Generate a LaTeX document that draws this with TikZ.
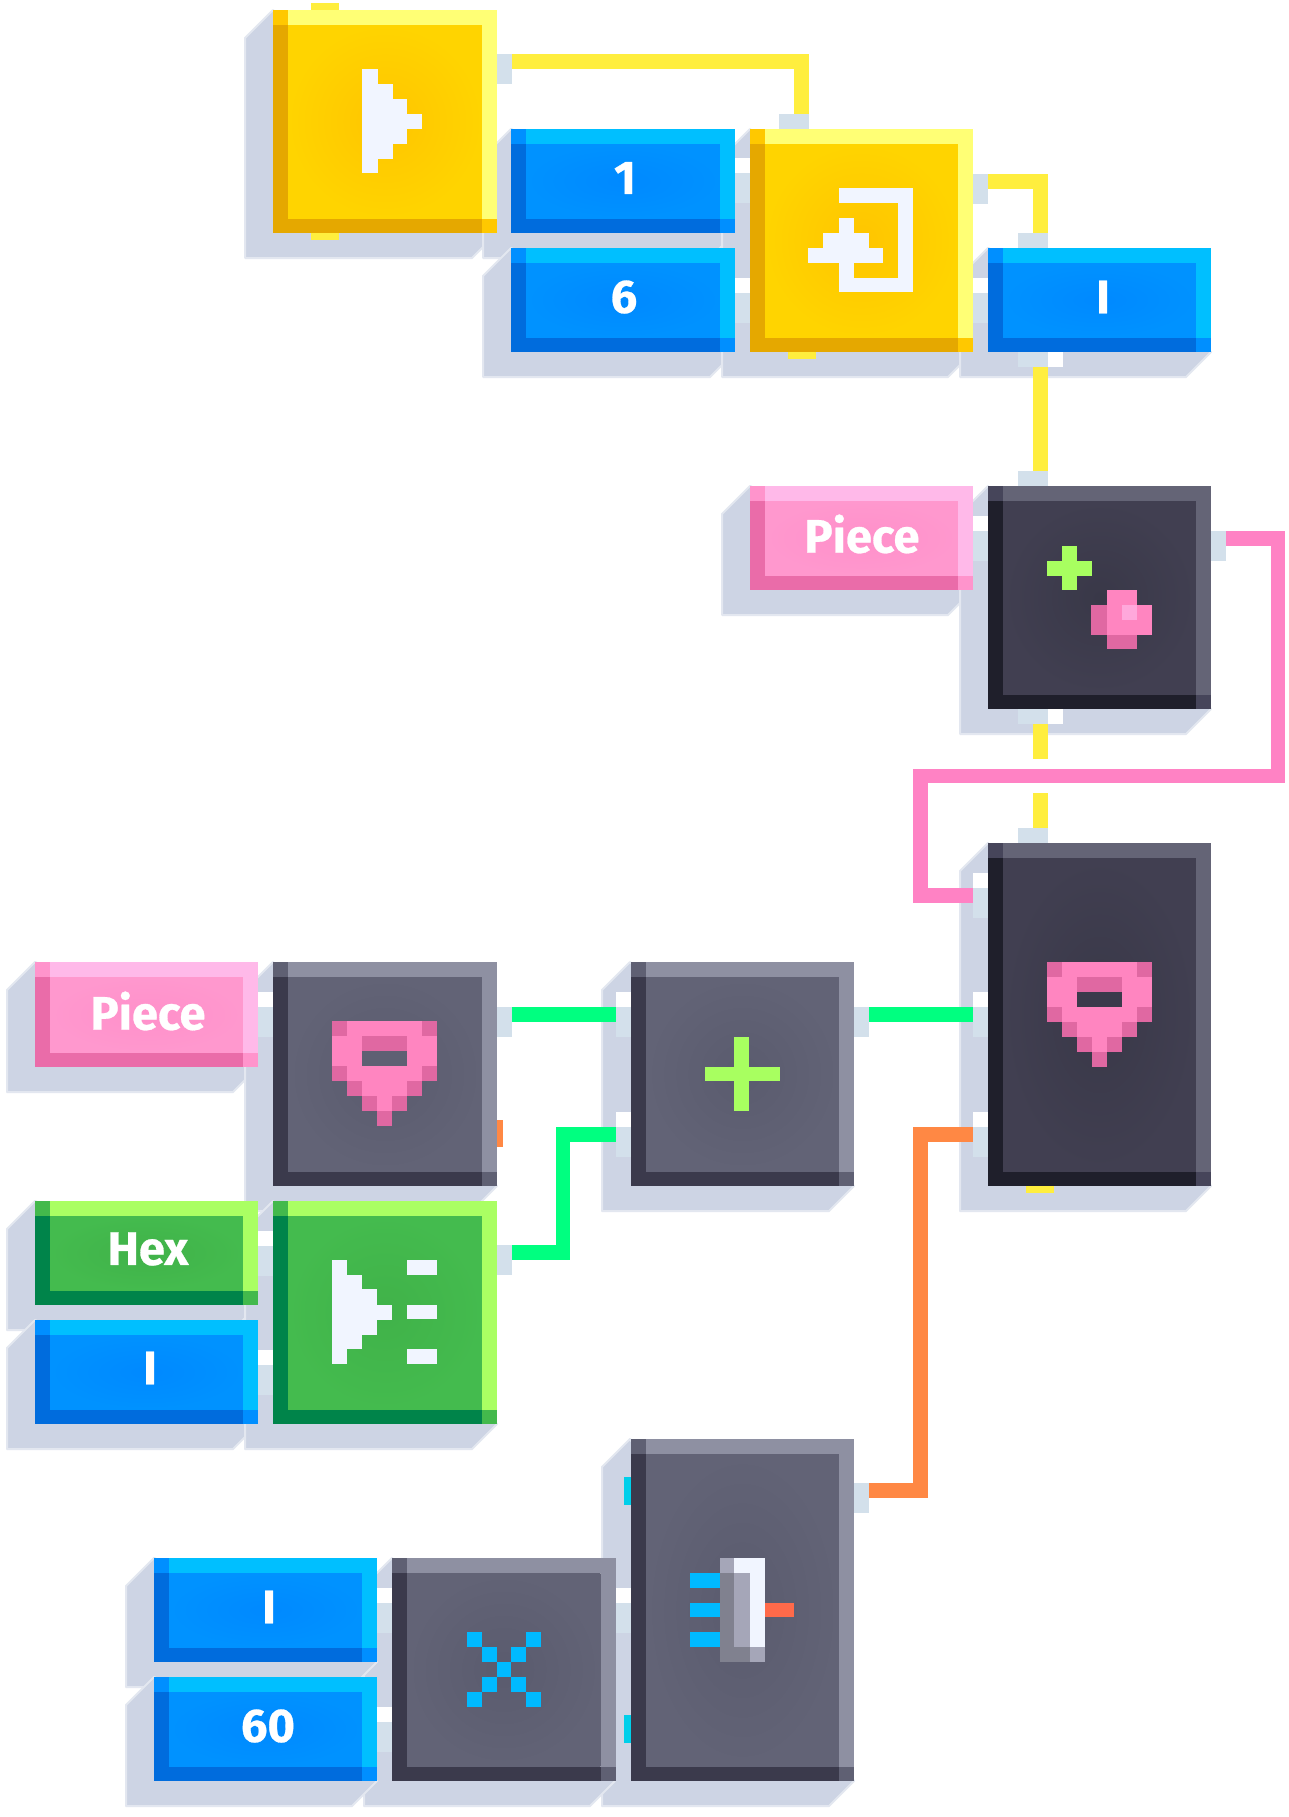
\documentclass[tikz,border=0pt]{standalone}
\usepackage{fontspec}
\setmainfont{Fira Sans}[BoldFeatures={FakeBold=0.6}]
\definecolor{shadowc}{HTML}{CDD4E4}
\definecolor{shadowe}{HTML}{E3E7F0}
\definecolor{portc}{HTML}{D3E0EB}
\definecolor{iconw}{HTML}{F1F5FF}
\definecolor{wirey}{HTML}{FFEE3E}
\definecolor{wireg}{HTML}{00FF80}
\definecolor{wirep}{HTML}{FF82C4}
\definecolor{wireo}{HTML}{FF8844}
\definecolor{stubc}{HTML}{00CFEA}
\definecolor{pinm}{HTML}{FF85C0}
\definecolor{pind}{HTML}{E068A2}
\definecolor{pinl}{HTML}{FFA8DB}
\definecolor{limec}{HTML}{A8FF60}
\definecolor{skyc}{HTML}{00BAFF}
\definecolor{redc}{HTML}{FF6A4A}
\definecolor{muxa}{HTML}{80818F}
\definecolor{muxb}{HTML}{A5A6B8}
\definecolor{bgdark}{HTML}{3B3A4B}
\definecolor{bggray}{HTML}{5F6073}
% colour sets: light, dark, corner, inner, outer
\definecolor{yelL}{HTML}{FFFF75}\definecolor{yelD}{HTML}{E5A800}\definecolor{yelC}{HTML}{FFC800}\definecolor{yelI}{HTML}{FFC500}\definecolor{yelO}{HTML}{FFD400}
\definecolor{bluL}{HTML}{00BFFF}\definecolor{bluD}{HTML}{006CDD}\definecolor{bluC}{HTML}{008FFF}\definecolor{bluI}{HTML}{0089FF}\definecolor{bluO}{HTML}{0092FF}
\definecolor{pnkL}{HTML}{FFB9E9}\definecolor{pnkD}{HTML}{EA6CA9}\definecolor{pnkC}{HTML}{FF94CC}\definecolor{pnkI}{HTML}{FF90CA}\definecolor{pnkO}{HTML}{FF98CE}
\definecolor{drkL}{HTML}{646476}\definecolor{drkD}{HTML}{1F1F2B}\definecolor{drkC}{HTML}{46455A}\definecolor{drkI}{HTML}{393848}\definecolor{drkO}{HTML}{413F51}
\definecolor{gryL}{HTML}{8E90A2}\definecolor{gryD}{HTML}{3B3A4C}\definecolor{gryC}{HTML}{5F6073}\definecolor{gryI}{HTML}{5A5B6E}\definecolor{gryO}{HTML}{626376}
\definecolor{grnL}{HTML}{AAFF63}\definecolor{grnD}{HTML}{00844A}\definecolor{grnC}{HTML}{43B94C}\definecolor{grnI}{HTML}{40B249}\definecolor{grnO}{HTML}{44BB4E}
\tikzset{
  wire/.style={line width=14.6pt,line cap=butt,line join=miter},
  portbox/.style={fill=portc,inner sep=0pt,outer sep=0pt,draw=none},
  blockbox/.style={inner sep=0pt,outer sep=0pt,draw=none},
  textlabel/.style={text=white,inner sep=0pt,outer sep=0pt,font=\fontsize{47}{50}\selectfont\bfseries},
  shadowshape/.style={fill=shadowc,draw=shadowe,line width=2pt,line join=round},
}
\newcommand{\MkShadow}[4]{\path[shadowshape] (#1,#2) -- (#1-28,#2+28) -- (#1-28,#4+25) -- (#3-25,#4+25) -- (#3,#4) -- cycle;}
\newcommand{\MkBlock}[6]{% name x0 y0 x1 y1 set
  \shade[inner color=#6I,outer color=#6O] (#2+15,#3+15) rectangle (#4-15,#5-15);
  \fill[#6L] (#2+15,#3) rectangle (#4,#3+15);
  \fill[#6L] (#4-15,#3) rectangle (#4,#5-14.5);
  \fill[#6D] (#2,#3+15) rectangle (#2+15,#5);
  \fill[#6D] (#2,#5-14.5) rectangle (#4-15,#5);
  \fill[#6C] (#2,#3) rectangle (#2+15,#3+15);
  \fill[#6C] (#4-15,#5-14.5) rectangle (#4,#5);
  \node[blockbox,minimum width=#4pt-#2pt,minimum height=#5pt-#3pt] (#1) at ({(#2+#4)/2},{(#3+#5)/2}) {};
}
\newcommand{\MkText}[4]{\node[textlabel] (#1) at (#2,#3) {#4};}
\newcommand{\OutPort}[3]{% name, left x, top y
  \node[portbox,minimum width=15pt,minimum height=30pt] (#1) at (#2+7.5,#3+15) {};
  \coordinate (#1-w) at (#2+15,#3+7.3);}
\newcommand{\InPort}[3]{% name, left x, top of white part
  \fill[white] (#2,#3) rectangle (#2+15,#3+15);
  \node[portbox,minimum width=15pt,minimum height=30pt] (#1) at (#2+7.5,#3+30) {};
  \coordinate (#1-w) at (#2,#3+22.3);}
\newcommand{\TopPort}[3]{% name, left x, top y
  \node[portbox,minimum width=30pt,minimum height=15pt] (#1) at (#2+15,#3+7.5) {};
  \coordinate (#1-w) at (#2+22.3,#3);}
\newcommand{\BotPort}[3]{% name, left x, top y
  \node[portbox,minimum width=30pt,minimum height=15pt] (#1) at (#2+15,#3+7.5) {};
  \fill[white] (#2+30,#3) rectangle (#2+45,#3+15);
  \coordinate (#1-w) at (#2+22.3,#3+15);}
\newcommand{\Rc}[5]{\fill[#1] (#2,#3) rectangle (#4,#5);}
\newcommand{\PinIcon}[3]{% x y hole colour
  \begin{scope}[shift={(#1,#2)}]
  \Rc{pinm}{15}{0}{90}{15}\Rc{pind}{0}{0}{15}{15}\Rc{pind}{90}{0}{105}{15}
  \Rc{pinm}{0}{15}{30}{45}\Rc{pinm}{75}{15}{105}{45}
  \Rc{pind}{30}{15}{75}{30}\Rc{#3}{30}{30}{75}{45}
  \Rc{pinm}{15}{45}{90}{60}\Rc{pind}{0}{45}{15}{60}\Rc{pind}{90}{45}{105}{60}
  \Rc{pinm}{30}{60}{75}{75}\Rc{pind}{15}{60}{30}{75}\Rc{pind}{75}{60}{90}{75}
  \Rc{pinm}{45}{75}{60}{90}\Rc{pind}{30}{75}{45}{90}\Rc{pind}{60}{75}{75}{90}
  \Rc{pind}{45}{90}{60}{105}
  \end{scope}}
\begin{document}
\begin{tikzpicture}[x=1pt,y=-1pt]
\useasboundingbox (0,0) rectangle (1288,1817);
\fill[white] (0,0) rectangle (1288,1817);
% shadows
\MkShadow{273}{10}{497}{233}
\MkShadow{511}{129}{735}{233}
\MkShadow{511}{248}{735}{352}
\MkShadow{750}{129}{973}{352}
\MkShadow{988}{248}{1211}{352}
\MkShadow{750}{486}{973}{590}
\MkShadow{988}{486}{1211}{709}
\MkShadow{988}{843}{1211}{1186}
\MkShadow{630}{962}{854}{1186}
\MkShadow{35}{962}{258}{1067}
\MkShadow{273}{962}{497}{1186}
\MkShadow{35}{1201}{258}{1305}
\MkShadow{35}{1320}{258}{1424}
\MkShadow{273}{1201}{497}{1424}
\MkShadow{630}{1439}{854}{1781}
\MkShadow{392}{1558}{615}{1781}
\MkShadow{154}{1558}{377}{1662}
\MkShadow{154}{1677}{377}{1781}
% ports
\OutPort{pa}{497}{54}
\TopPort{pb}{779}{114}
\InPort{pc1}{735}{158}
\InPort{pc2}{735}{278}
\OutPort{pd}{973}{174}
\TopPort{pe}{1018}{233}
\InPort{pf}{973}{278}
\BotPort{pg}{1018}{352}
\TopPort{ph}{1018}{471}
\InPort{pi}{973}{516}
\OutPort{pj}{1211}{531}
\BotPort{pk}{1018}{709}
\TopPort{pl}{1018}{828}
\InPort{pm1}{973}{873}
\InPort{pm2}{973}{992}
\InPort{pm3}{973}{1112}
\OutPort{pn}{854}{1007}
\InPort{po1}{615.5}{992}
\InPort{po2}{615.5}{1112}
\OutPort{pp}{497}{1007}
\InPort{pq}{258}{992}
\OutPort{pr}{497}{1245}
\InPort{ps1}{258}{1231}
\InPort{ps2}{258}{1350}
\InPort{pt1}{377}{1588}
\InPort{pt2}{377}{1707}
\InPort{pu}{615.5}{1588}
\OutPort{pv}{854}{1483}
% stubs
\Rc{wirey}{311}{3}{339}{10}
\Rc{wirey}{311}{233}{339}{240}
\Rc{wirey}{788}{352}{816}{359}
\Rc{wirey}{1026}{1186}{1054}{1193}
\Rc{wireo}{497}{1120}{503}{1147}
\Rc{stubc}{624}{1477}{631}{1505}
\Rc{stubc}{624}{1715}{631}{1743}
% wires
\draw[wire,wirey] (pa-w) -| (pb-w);
\draw[wire,wirey] (pd-w) -| (pe-w);
\draw[wire,wirey] (pg-w) -- (ph-w);
\coordinate (bridgea) at (1040.3,759);
\coordinate (bridgeb) at (1040.3,793);
\draw[wire,wirey] (pk-w) -- (bridgea);
\draw[wire,wirey] (bridgeb) -- (pl-w);
\coordinate (pinka) at (1278,538.3);
\coordinate (pinkb) at (1278,776);
\coordinate (pinkc) at (920.5,776);
\draw[wire,wirep] (pj-w) -- (pinka) -- (pinkb) -- (pinkc) |- (pm1-w);
\draw[wire,wireg] (pp-w) -- (po1-w);
\draw[wire,wireg] (pn-w) -- (pm2-w);
\coordinate (greenb) at (563,1252.3);
\draw[wire,wireg] (pr-w) -- (greenb) |- (po2-w);
\coordinate (orangeb) at (920.7,1490.3);
\draw[wire,wireo] (pv-w) -- (orangeb) |- (pm3-w);
% blocks
\MkBlock{yone}{273}{10}{497}{233}{yel}
\MkBlock{bone}{511}{129}{735}{233}{blu}
\MkBlock{bsix}{511}{248}{735}{352}{blu}
\MkBlock{ytwo}{750}{129}{973}{352}{yel}
\MkBlock{bitop}{988}{248}{1211}{352}{blu}
\MkBlock{pktop}{750}{486}{973}{590}{pnk}
\MkBlock{dadd}{988}{486}{1211}{709}{drk}
\MkBlock{dpin}{988}{843}{1211}{1186}{drk}
\MkBlock{gadd}{630.5}{962}{854}{1186}{gry}
\MkBlock{pkleft}{35}{962}{258}{1067}{pnk}
\MkBlock{gpin}{273}{962}{497}{1186}{gry}
\MkBlock{hexb}{35}{1201}{258}{1305}{grn}
\MkBlock{bileft}{35}{1320}{258}{1424}{blu}
\MkBlock{gplay}{273}{1201}{497}{1424}{grn}
\MkBlock{gmux}{630.5}{1439}{854}{1781}{gry}
\MkBlock{gmul}{392}{1558}{615.5}{1781}{gry}
\MkBlock{bibot}{154}{1558}{377}{1662}{blu}
\MkBlock{bsixty}{154}{1677}{377}{1781}{blu}
% labels
\MkText{tone}{625}{178}{1}
\MkText{tsix}{624}{297}{6}
\MkText{tia}{1103}{297}{I}
\MkText{tpa}{862}{534}{Piece}
\MkText{tpb}{148}{1011}{Piece}
\MkText{thex}{148}{1249}{Hex}
\MkText{tib}{150}{1368}{I}
\MkText{tic}{269}{1607}{I}
\MkText{tsx}{268}{1726}{60}
% play icon, yellow
\Rc{iconw}{362}{69}{378}{173}\Rc{iconw}{378}{84}{393}{159}\Rc{iconw}{393}{99}{407}{144}\Rc{iconw}{407}{114}{422}{129}
% export icon
\Rc{iconw}{839}{188}{912.5}{203}\Rc{iconw}{898}{188}{912.5}{292}\Rc{iconw}{839}{278}{912.5}{292}\Rc{iconw}{839}{218}{854}{292}
\Rc{iconw}{823}{233}{869}{248}\Rc{iconw}{808}{248}{883}{263}
% add piece icon
\Rc{limec}{1047}{561}{1092}{576}\Rc{limec}{1062}{546}{1077}{590}
\Rc{pinm}{1107}{590}{1137}{605}\Rc{pind}{1091}{605}{1107}{635}\Rc{pinm}{1107}{605}{1152}{635}\Rc{pinl}{1122}{605}{1137}{620}\Rc{pind}{1107}{635}{1137}{649}
% pins
\PinIcon{1047}{962}{bgdark}
\PinIcon{332}{1021}{bggray}
% plus
\Rc{limec}{704.5}{1067}{779.5}{1081}\Rc{limec}{734}{1037}{749}{1111}
% play list icon
\Rc{iconw}{332}{1260}{347}{1364}\Rc{iconw}{347}{1275}{362}{1349}\Rc{iconw}{362}{1289}{377}{1335}\Rc{iconw}{377}{1305}{392}{1320}
\Rc{iconw}{407}{1260}{437}{1275}\Rc{iconw}{407}{1305}{437}{1319}\Rc{iconw}{407}{1349}{437}{1364}
% multiply icon
\foreach \cx/\cy in {0/0,4/0,1/1,3/1,2/2,1/3,3/3,0/4,4/4}{\fill[skyc] (467+\cx*14.8,1632+\cy*15) rectangle ++(14.8,15);}
% mux icon
\Rc{skyc}{690}{1573}{719.5}{1588}\Rc{skyc}{690}{1603}{719.5}{1617}\Rc{skyc}{690}{1632}{719.5}{1647}
\Rc{muxb}{719.5}{1558}{734}{1573}\Rc{muxa}{719.5}{1573}{734}{1662}
\Rc{iconw}{734}{1558}{750}{1573}\Rc{muxb}{734}{1573}{750}{1647}\Rc{muxa}{734}{1647}{750}{1662}
\Rc{iconw}{750}{1558}{765}{1647}\Rc{muxb}{750}{1647}{765}{1662}
\Rc{redc}{765}{1603}{794}{1617}
\end{tikzpicture}
\end{document}
